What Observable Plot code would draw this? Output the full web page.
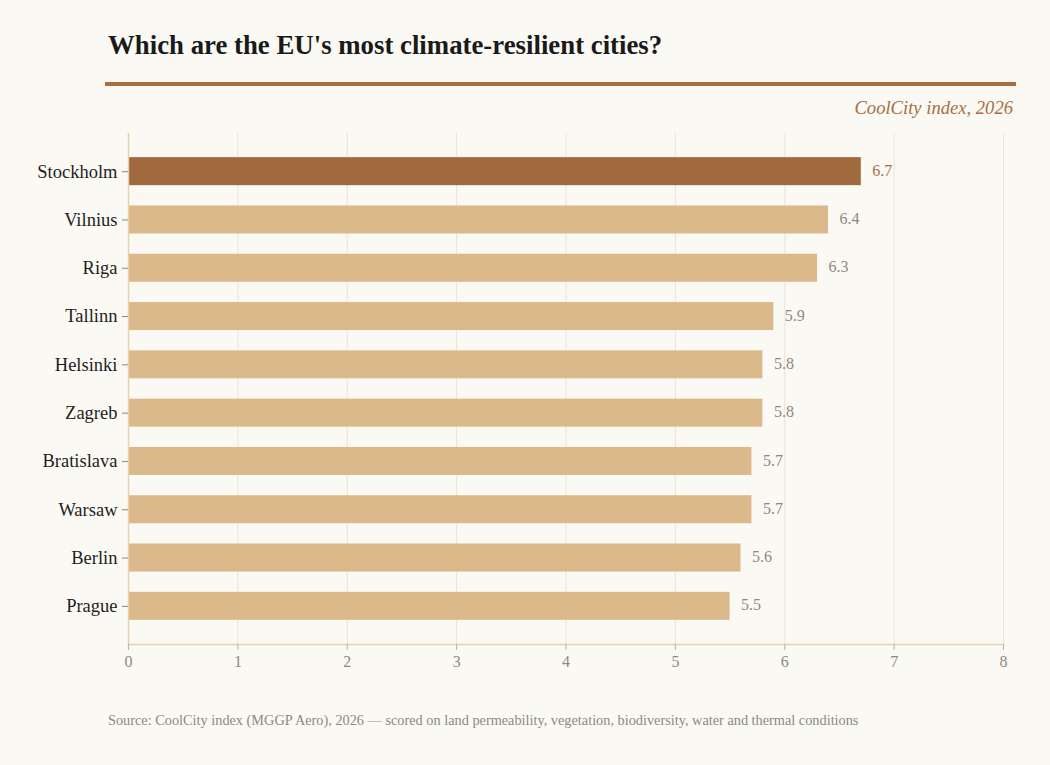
<!DOCTYPE html>
<html>
<head>
<meta charset="utf-8">
<script src="https://cdn.jsdelivr.net/npm/d3@7"></script>
<script src="https://cdn.jsdelivr.net/npm/@observablehq/plot@0.6"></script>
<style>
  html, body { margin: 0; padding: 0; background: #fbf9f4; }
  body { width: 1050px; height: 765px; position: relative; font-family: "Liberation Serif", "Times New Roman", serif; }
  #title { position: absolute; left: 108px; top: 30px; font-size: 26.8px; font-weight: bold; color: #1a1a1a; }
  #bar { position: absolute; left: 105px; top: 82px; width: 911px; height: 4px; background: #a86e40; }
  #subtitle { position: absolute; right: 37px; top: 97px; font-size: 18.6px; font-style: italic; color: #a8703f; }
  #chart { position: absolute; left: 0; top: 120px; }
  #caption { position: absolute; left: 108px; top: 712px; font-size: 14.3px; color: #8c8a7e; }
</style>
</head>
<body>
<div id="title">Which are the EU's most climate-resilient cities?</div>
<div id="bar"></div>
<div id="subtitle">CoolCity index, 2026</div>
<div id="chart"></div>
<div id="caption">Source: CoolCity index (MGGP Aero), 2026 — scored on land permeability, vegetation, biodiversity, water and thermal conditions</div>
<script>
// CoolCity index scores, 2026
const cities = ["Stockholm", "Vilnius", "Riga", "Tallinn", "Helsinki", "Zagreb", "Bratislava", "Warsaw", "Berlin", "Prague"];
const scores = [6.7, 6.4, 6.3, 5.9, 5.8, 5.8, 5.7, 5.7, 5.6, 5.5];
const xTicks = [0, 1, 2, 3, 4, 5, 6, 7, 8];

const data = cities.map((city, i) => ({city, score: scores[i], top: i === 0}));

const dark = "#a0693e";
const light = "#dbb98b";

const chart = Plot.plot({
  width: 1050,
  height: 560,
  marginLeft: 128,
  marginRight: 47,
  marginTop: 13,
  marginBottom: 36,
  style: {background: "transparent", fontFamily: "'Liberation Serif', 'Times New Roman', serif"},
  x: {domain: [0, 8], ticks: xTicks, label: null},
  y: {domain: cities, label: null, paddingInner: 0.42, paddingOuter: 0.5, round: false},
  marks: [
    Plot.gridX(xTicks.filter(d => d > 0), {stroke: "#ece4d4", strokeOpacity: 1, strokeWidth: 1}),
    Plot.barX(data, {x: "score", y: "city", fill: d => d.top ? dark : light}),
    Plot.text(data, {
      x: "score", y: "city", text: d => d.score.toFixed(1),
      dx: 11, dy: -1, textAnchor: "start", fontSize: 16,
      fill: d => d.top ? "#a8703f" : "#8c8a82"
    }),
    Plot.ruleX([0], {stroke: "#e6d2b0", strokeWidth: 1.5}),
    Plot.frame({anchor: "bottom", stroke: "#e6d2b0", strokeWidth: 1.5}),
    Plot.axisY({tickSize: 6, tickPadding: 5, stroke: "#8c8a82", fontSize: 18.5, fill: "#1e1e1e"}),
    Plot.axisX({ticks: xTicks, tickSize: 6, tickPadding: 5, stroke: "#b8b2a4", fontSize: 16, fill: "#8c8a82", tickFormat: d3.format("d")})
  ]
});
document.getElementById("chart").appendChild(chart);
</script>
</body>
</html>
